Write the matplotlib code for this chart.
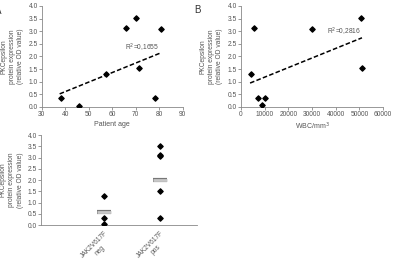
import numpy as np
import matplotlib.pyplot as plt
import matplotlib.patheffects as pe

# Panel A data
age = [38.0, 46.0, 57.1, 66.0, 70.0, 71.2, 78.0, 80.9]
pkc_age = [0.35, 0.05, 1.30, 3.12, 3.52, 1.53, 0.35, 3.09]
fit_age = (0.0377, -0.90)  # slope, intercept of the dashed trend line

# Panel B data
wbc = [4300, 5700, 7100, 8800, 10200, 30000, 50700, 51100]
pkc_wbc = [1.32, 3.12, 0.36, 0.07, 0.36, 3.09, 3.53, 1.55]
fit_wbc = (3.79e-5, 0.80)

# Panel C data
groups = ["JAK2V617F\nneg", "JAK2V617F\npos"]
neg_vals = [1.28, 0.33, 0.05]
pos_vals = [3.53, 3.12, 3.08, 1.52, 0.33]
group_means = [0.57, 2.00]

TXT = "#555555"
AX = "#888888"
FS = 4.8
YLAB = "PKCepsilon\nprotein expression\n(relative OD value)"

plt.rcParams['font.family'] = ['Liberation Sans', 'DejaVu Sans']

fig = plt.figure(figsize=(3.99, 2.68), dpi=100)


def style(ax):
    for s in ["top", "right"]:
        ax.spines[s].set_visible(False)
    for s in ["left", "bottom"]:
        ax.spines[s].set_color(AX)
        ax.spines[s].set_linewidth(0.6)
    ax.tick_params(colors=AX, labelcolor=TXT, labelsize=FS, width=0.6,
                   length=2, pad=1)
    ax.set_ylim(0, 4.0)
    ax.set_yticks(np.arange(0, 4.01, 0.5))
    ax.yaxis.set_major_formatter(plt.FuncFormatter(lambda v, p: f"{v:.1f}"))
    ax.set_ylabel(YLAB, fontsize=FS, color=TXT, labelpad=3, linespacing=1.3)


def trend(ax, x, fit, label, lx, ly):
    k, b = fit
    xs = np.array([min(x) - 0.01 * (max(x) - min(x)), max(x)])
    ax.plot(xs, k * xs + b, color="black", lw=1.1, ls=(0, (3, 1.5)))
    ax.text(lx, ly, label, fontsize=FS, color=TXT, ha="left", va="bottom")


# A
axA = fig.add_axes([0.105, 0.601, 0.353, 0.377])
style(axA)
axA.scatter(age, pkc_age, marker="D", s=7, color="black", zorder=3)
trend(axA, age, fit_age, "R$^2$=0,1655", 65.5, 2.08)
axA.set_xlim(30, 90)
axA.set_xticks(range(30, 91, 10))
axA.set_xlabel("Patient age", fontsize=FS + 0.2, color=TXT, labelpad=2)

# B
axB = fig.add_axes([0.604, 0.601, 0.356, 0.377])
style(axB)
axB.scatter(wbc, pkc_wbc, marker="D", s=7, color="black", zorder=3)
trend(axB, wbc, fit_wbc, "R$^2$=0,2816", 36400, 2.72)
axB.set_xlim(0, 60000)
axB.set_xticks(range(0, 60001, 10000))
axB.set_xlabel("WBC/mm$^3$", fontsize=FS + 0.2, color=TXT, labelpad=2)

# C
axC = fig.add_axes([0.103, 0.160, 0.391, 0.336])
style(axC)
for i, vals in enumerate([neg_vals, pos_vals]):
    axC.scatter([i] * len(vals), vals, marker="D", s=7, color="black", zorder=3)
    axC.plot([i - 0.12, i + 0.12], [group_means[i]] * 2, color="#c8c8c8",
             lw=2.0, solid_capstyle="butt", zorder=2,
             path_effects=[pe.Stroke(linewidth=3.0, foreground="#777777"), pe.Normal()])
axC.set_xlim(-1.125, 1.66)
axC.set_xticks([0, 1])
axC.set_xticklabels(groups, rotation=45, ha="right", rotation_mode="anchor",
                    fontsize=FS, color=TXT, linespacing=1.3, multialignment="center")
axC.tick_params(axis="x", length=0, pad=3)

fig.text(-0.012, 0.958, "A", fontsize=7, color="#333333", ha="left", va="center")
fig.text(0.487, 0.962, "B", fontsize=7, color="#333333", ha="left", va="center")

fig.savefig("out.png", dpi=100)
